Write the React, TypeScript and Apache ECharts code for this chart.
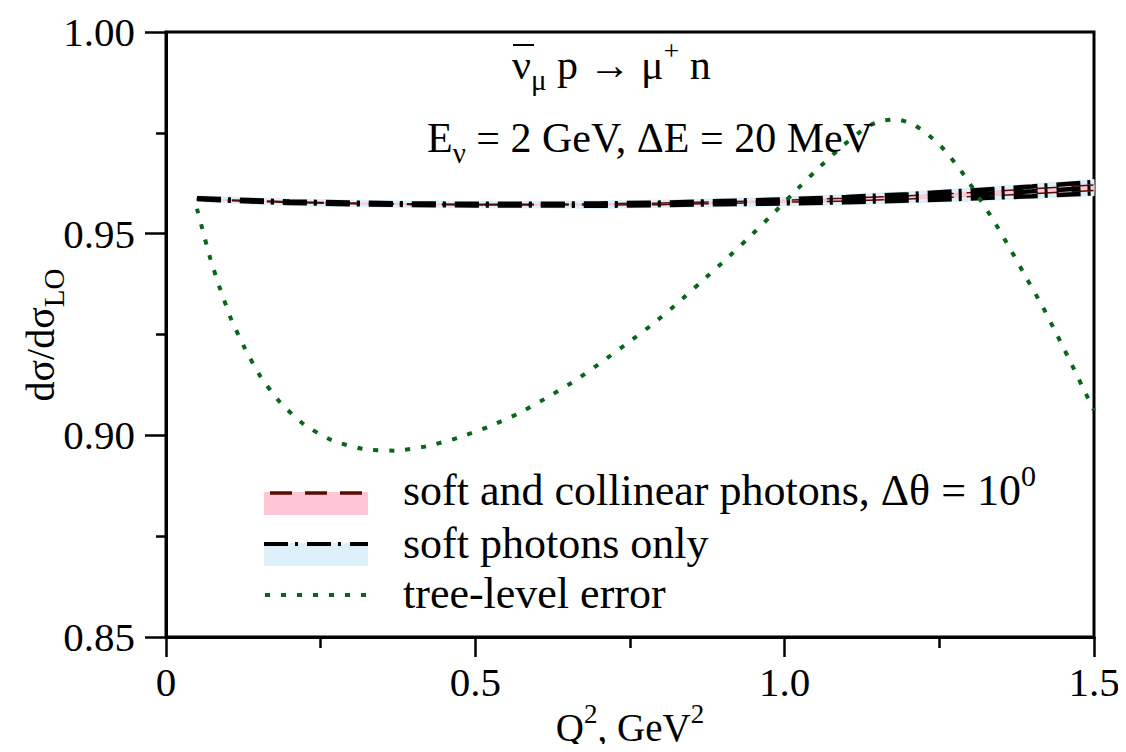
import React, { useEffect, useRef } from 'react';
import * as echarts from 'echarts';

const FONT_TICK = 'Times New Roman';
const FONT_TITLE = 'serif';
const FONT_LEGEND = 'Liberation Serif';

// Q^2 grid for the radiative-correction bands
const qBand = [0.05, 0.1, 0.2, 0.3, 0.4, 0.5, 0.6, 0.7, 0.8, 0.9, 1.0, 1.1, 1.2, 1.3, 1.4, 1.5];

// soft photons only (dash-dot lines)
const softUpper = [0.9588, 0.9585, 0.958, 0.9577, 0.9575, 0.9574, 0.9574, 0.9575, 0.9577, 0.9581, 0.9585, 0.9591, 0.9598, 0.9607, 0.9617, 0.9628];
const softMid = [0.9587, 0.9583, 0.9578, 0.9575, 0.9573, 0.9572, 0.9572, 0.9572, 0.9574, 0.9577, 0.958, 0.9584, 0.959, 0.9597, 0.9605, 0.9614];
const softLower = [0.9586, 0.9582, 0.9576, 0.9573, 0.9571, 0.957, 0.957, 0.9569, 0.9571, 0.9573, 0.9575, 0.9578, 0.9582, 0.9587, 0.9593, 0.96];
// soft photons only: uncertainty band (light blue)
const blueHi = [0.9594, 0.9591, 0.9586, 0.9583, 0.9581, 0.958, 0.958, 0.9581, 0.9583, 0.9587, 0.9591, 0.9597, 0.9604, 0.9613, 0.9623, 0.9634];
const blueLo = [0.958, 0.9576, 0.957, 0.9567, 0.9565, 0.9564, 0.9564, 0.9563, 0.9565, 0.9567, 0.9569, 0.9572, 0.9576, 0.9581, 0.9587, 0.9594];

// soft and collinear photons (dashed lines + pink band)
const redHi = [0.9588, 0.9584, 0.9579, 0.9576, 0.9574, 0.9573, 0.9573, 0.9574, 0.9576, 0.9579, 0.9583, 0.9588, 0.9594, 0.9602, 0.9611, 0.9621];
const redLo = [0.9586, 0.9582, 0.9577, 0.9574, 0.9572, 0.9571, 0.9571, 0.9571, 0.9572, 0.9575, 0.9578, 0.9581, 0.9586, 0.9592, 0.9599, 0.9607];

// tree-level error (dotted)
const qTree = [0.05, 0.0577, 0.0711, 0.0873, 0.1051, 0.1277, 0.1531, 0.1843, 0.223, 0.2678, 0.3189, 0.3701, 0.4214, 0.4724, 0.5209, 0.5694, 0.6153, 0.6595, 0.7026, 0.7446, 0.786, 0.8264, 0.8647, 0.9035, 0.9412, 0.979, 1.015, 1.0517, 1.091, 1.1314, 1.1541, 1.181, 1.2069, 1.2284, 1.2483, 1.266, 1.2822, 1.2968, 1.3113, 1.3399, 1.3658, 1.3912, 1.417, 1.4406, 1.4639, 1.4865, 1.5];
const treeVal = [0.9562, 0.9518, 0.9441, 0.9364, 0.9289, 0.9215, 0.9145, 0.9082, 0.9027, 0.8988, 0.8966, 0.8962, 0.8973, 0.8994, 0.9021, 0.9054, 0.9093, 0.9134, 0.918, 0.9227, 0.9275, 0.9327, 0.938, 0.9434, 0.9489, 0.9546, 0.9602, 0.9658, 0.9714, 0.9763, 0.9779, 0.9783, 0.9772, 0.9749, 0.9724, 0.9693, 0.9662, 0.963, 0.9596, 0.9527, 0.9459, 0.9389, 0.9319, 0.9248, 0.9176, 0.9104, 0.9062];

const xTicks = [0, 0.5, 1.0, 1.5];
const xTickLabels = ['0', '0.5', '1.0', '1.5'];
const yTicks = [0.85, 0.9, 0.95, 1.0];
const yTickLabels = ['0.85', '0.90', '0.95', '1.00'];

const legendLabels = ['soft and collinear photons, \u0394\u03b8 = 10', 'soft photons only', 'tree-level error'];

const pairs = (xs: number[], ys: number[]) => xs.map((x, i) => [x, ys[i]]);
const segments = (xs: number[], lo: number[], hi: number[]) =>
  xs.slice(0, -1).map((x, i) => [x, lo[i], hi[i], xs[i + 1], lo[i + 1], hi[i + 1]]);

const DASHDOT = [24, 7, 3, 9];
const DASHED = [22, 13];
const DOTTED = [5, 11];
const GREEN = '#08661a';
const DARKRED = '#5a0a00';
const PINK = '#ffc6d6';
const LIGHTBLUE = '#ddeff9';

function buildOption(): any {
  const richBase = {
    m: { fontSize: 42, fontFamily: FONT_TITLE, fill: '#000', lineHeight: 58 },
    s: { fontSize: 29, fontFamily: FONT_TITLE, fill: '#000', lineHeight: 30, verticalAlign: 'bottom' },
    p: { fontSize: 28, fontFamily: FONT_TITLE, fill: '#000', lineHeight: 40, verticalAlign: 'top' },
  };
  const richLegend = {
    m: { fontSize: 44, fontFamily: FONT_LEGEND, fill: '#000', lineHeight: 60 },
    p: { fontSize: 30, fontFamily: FONT_LEGEND, fill: '#000', lineHeight: 40, verticalAlign: 'top' },
  };
  const lineSeries = (name: string, xs: number[], ys: number[], color: string, width: number, type: any) => ({
    name,
    type: 'line',
    data: pairs(xs, ys),
    symbol: 'none',
    silent: true,
    lineStyle: { color, width, type, cap: 'butt' },
  });
  const bandSeries = (name: string, lo: number[], hi: number[], color: string) => ({
    name,
    type: 'custom',
    silent: true,
    data: segments(qBand, lo, hi),
    encode: { x: [0, 3], y: [1, 2, 4, 5] },
    renderItem: (params: any, api: any) => {
      const a = api.coord([api.value(0), api.value(1)]);
      const b = api.coord([api.value(0), api.value(2)]);
      const c = api.coord([api.value(3), api.value(5)]);
      const d = api.coord([api.value(3), api.value(4)]);
      return {
        type: 'polygon',
        shape: { points: [a, b, c, d] },
        style: { fill: color, stroke: color, lineWidth: 1 },
      };
    },
  });
  return {
    animation: false,
    backgroundColor: '#fff',
    grid: { left: 166, right: 32, top: 32, bottom: 115, show: true, borderColor: '#000', borderWidth: 3 },
    xAxis: {
      type: 'value',
      min: 0,
      max: 1.5,
      interval: 0.5,
      axisLine: { show: true, lineStyle: { color: '#000', width: 3 } },
      axisTick: { show: true, length: 20, lineStyle: { color: '#000', width: 2.5 } },
      minorTick: { show: true, splitNumber: 2, length: 11, lineStyle: { color: '#000', width: 2.5 } },
      splitLine: { show: false },
      axisLabel: {
        margin: 24,
        fontSize: 41,
        fontFamily: FONT_TICK,
        color: '#000',
        formatter: (v: number) => {
          const i = xTicks.findIndex((t) => Math.abs(t - v) < 1e-9);
          return i >= 0 ? xTickLabels[i] : '';
        },
      },
    },
    yAxis: {
      type: 'value',
      min: 0.85,
      max: 1.0,
      interval: 0.05,
      axisLine: { show: true, lineStyle: { color: '#000', width: 3 } },
      axisTick: { show: true, length: 21, lineStyle: { color: '#000', width: 2.5 } },
      minorTick: { show: true, splitNumber: 2, length: 10, lineStyle: { color: '#000', width: 2.5 } },
      splitLine: { show: false },
      axisLabel: {
        margin: 31,
        fontSize: 41,
        fontFamily: FONT_TICK,
        color: '#000',
        formatter: (v: number) => {
          const i = yTicks.findIndex((t) => Math.abs(t - v) < 1e-9);
          return i >= 0 ? yTickLabels[i] : '';
        },
      },
    },
    series: [
      bandSeries('soft band', blueLo, blueHi, LIGHTBLUE),
      bandSeries('collinear band', redLo, redHi, PINK),
      lineSeries('collinear hi', qBand, redHi, DARKRED, 1.5, DASHED),
      lineSeries('collinear lo', qBand, redLo, DARKRED, 1.5, DASHED),
      lineSeries('soft hi', qBand, softUpper, '#000', 4.5, DASHDOT),
      lineSeries('soft mid', qBand, softMid, '#000', 4.5, DASHDOT),
      lineSeries('soft lo', qBand, softLower, '#000', 4.5, DASHDOT),
      { ...lineSeries('tree', qTree, treeVal, GREEN, 4, DOTTED), smooth: 0.2 },
    ],
    graphic: [
      {
        type: 'text',
        x: 512,
        y: 65,
        z: 100,
        style: {
          text: '{m|\u03bd}{s|\u03bc}{m| p \u2192 \u03bc}{p|+}{m| n}',
          fontFamily: FONT_TITLE,
          fontSize: 42,
          rich: richBase,
          align: 'left',
          verticalAlign: 'middle',
        },
      },
      { type: 'line', z: 100, shape: { x1: 513, y1: 45, x2: 534, y2: 45 }, style: { stroke: '#000', lineWidth: 2 } },
      {
        type: 'text',
        x: 873,
        y: 138,
        z: 100,
        style: {
          text: '{m|E}{s|\u03bd}{m| = 2 GeV, \u0394E = 20 MeV}',
          fontFamily: FONT_TITLE,
          fontSize: 42,
          rich: richBase,
          align: 'right',
          verticalAlign: 'middle',
        },
      },
      {
        type: 'text',
        x: 630,
        y: 727,
        z: 100,
        style: {
          text: '{m|Q}{p|2}{m|, GeV}{p|2}',
          fontFamily: FONT_TICK,
          fontSize: 39,
          rich: {
            m: { fontSize: 39, fontFamily: FONT_TICK, fill: '#000', lineHeight: 54 },
            p: { fontSize: 27, fontFamily: FONT_TICK, fill: '#000', lineHeight: 36, verticalAlign: 'top' },
          },
          align: 'center',
          verticalAlign: 'middle',
        },
      },
      {
        type: 'text',
        x: 40,
        y: 335,
        z: 100,
        rotation: Math.PI / 2,
        style: {
          text: '{m|d\u03c3/d\u03c3}{s|LO}',
          fontFamily: FONT_TICK,
          fontSize: 40,
          rich: {
            m: { fontSize: 40, fontFamily: FONT_TICK, fill: '#000', lineHeight: 56 },
            s: { fontSize: 29, fontFamily: FONT_TICK, fill: '#000', lineHeight: 30, verticalAlign: 'bottom' },
          },
          align: 'center',
          verticalAlign: 'middle',
        },
      },
      { type: 'rect', z: 100, shape: { x: 264, y: 492, width: 104, height: 23 }, style: { fill: PINK } },
      { type: 'line', z: 101, shape: { x1: 270, y1: 493, x2: 368, y2: 493 }, style: { stroke: DARKRED, lineWidth: 3.5, lineDash: DASHED } },
      { type: 'rect', z: 100, shape: { x: 264, y: 543, width: 104, height: 23 }, style: { fill: LIGHTBLUE } },
      { type: 'line', z: 101, shape: { x1: 264, y1: 544, x2: 368, y2: 544 }, style: { stroke: '#000', lineWidth: 4, lineDash: DASHDOT } },
      { type: 'line', z: 101, shape: { x1: 265, y1: 595, x2: 370, y2: 595 }, style: { stroke: GREEN, lineWidth: 4, lineDash: DOTTED } },
      {
        type: 'text',
        x: 403,
        y: 490,
        z: 100,
        style: {
          text: '{m|' + legendLabels[0] + '}{p|0}',
          fontFamily: FONT_LEGEND,
          fontSize: 44,
          rich: richLegend,
          align: 'left',
          verticalAlign: 'middle',
        },
      },
      {
        type: 'text',
        x: 403,
        y: 543,
        z: 100,
        style: { text: legendLabels[1], fontSize: 44, fontFamily: FONT_LEGEND, fill: '#000', align: 'left', verticalAlign: 'middle' },
      },
      {
        type: 'text',
        x: 403,
        y: 593,
        z: 100,
        style: { text: legendLabels[2], fontSize: 44, fontFamily: FONT_LEGEND, fill: '#000', align: 'left', verticalAlign: 'middle' },
      },
    ],
  };
}

export default function App() {
  const ref = useRef<HTMLDivElement>(null);
  useEffect(() => {
    const chart = echarts.init(ref.current!, null, { renderer: 'svg' });
    chart.setOption(buildOption());
    return () => {
      chart.dispose();
    };
  }, []);
  return <div ref={ref} style={{ width: 1126, height: 752, margin: -8, background: '#fff' }} />;
}
